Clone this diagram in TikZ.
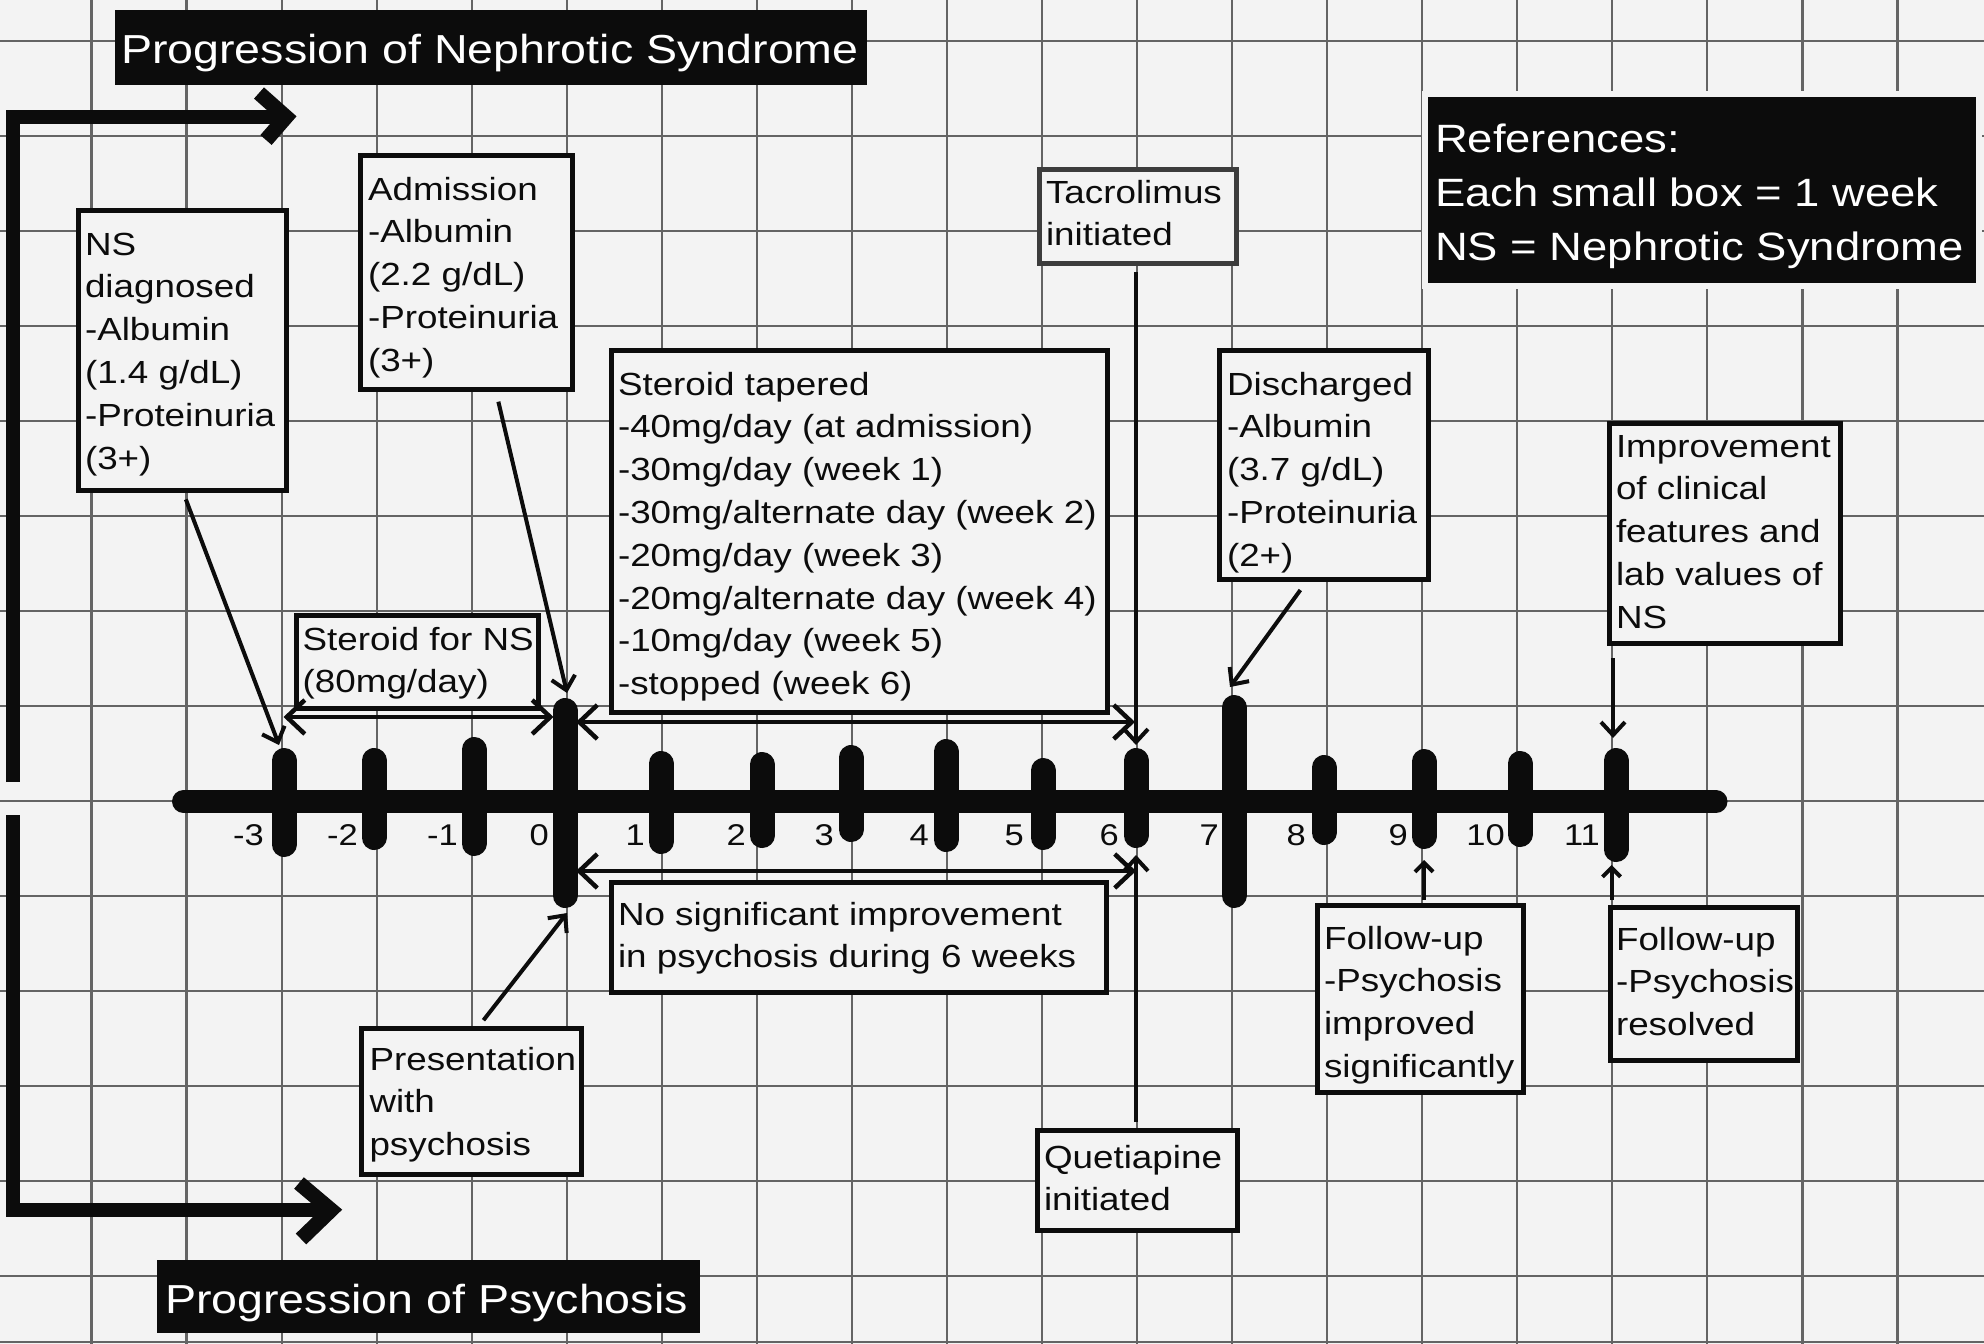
\documentclass[tikz,border=0pt]{standalone}
\usepackage{fontspec}
\setmainfont{Liberation Sans}[FakeStretch=1.15]
\usetikzlibrary{arrows.meta}
\definecolor{bg}{RGB}{243,243,243}
\definecolor{gridc}{RGB}{100,100,100}
\definecolor{ink}{RGB}{12,12,12}
\definecolor{tacc}{RGB}{60,60,60}
\newcommand{\LL}[1]{\mbox{#1}\par}
\newcommand{\bt}[5]{\parbox[c][#2pt][t]{#1pt}{\leftskip=#3pt\relax\rule{0pt}{#4pt}#5}}
\newcommand{\boxfont}{\fontsize{32}{42.8}\selectfont}
\newcommand{\titlefont}{\fontsize{40.5}{54}\selectfont}
\newcommand{\reffont}{\fontsize{39.5}{54}\selectfont}
\newcommand{\axfont}{\fontsize{30}{36}\selectfont}
\tikzset{
 gridline/.style={draw=gridc, line width=2.2pt},
 infobox/.style={draw=ink, line width=5pt, fill=bg, inner sep=0pt, outer sep=0pt, anchor=north west, font=\boxfont, text=ink},
 blackbox/.style={fill=ink, inner sep=0pt, outer sep=0pt, anchor=north west, text=white},
 axlab/.style={inner sep=0pt, anchor=base east, font=\axfont, text=ink},
 arr/.style={draw=ink, line width=4pt, -{Straight Barb[length=13pt,width=24pt]}},
 sarr/.style={draw=ink, line width=4pt, -{Straight Barb[length=9pt,width=18pt]}},
 darr/.style={draw=ink, line width=4.5pt, {Straight Barb[length=18pt,width=34pt]}-{Straight Barb[length=18pt,width=34pt]}},
 tickmark/.style={draw=ink, line width=25pt, line cap=round},
 bigline/.style={draw=ink, line width=14pt, line join=miter},
 chev/.style={draw=ink, line width=15pt, line join=miter},
}
\begin{document}
\begin{tikzpicture}[x=1pt,y=-1pt]
\useasboundingbox (0,0) rectangle (1984,1344);
\fill[bg] (0,0) rectangle (1984,1344);
% grid
\foreach \i in {0,...,19} \draw[gridline] ({91.5+95.05*\i},0) -- ++(0,1344);
\foreach \j in {0,...,13} \draw[gridline] (0,{40.7+95*\j}) -- ++(1984,0);
\draw[gridline] (0,1342) -- (1984,1342);

% big progression brackets
\draw[bigline] (13,782) -- (13,117) -- (286,117);
\draw[chev] (259,93) -- (286,117) -- (266,140);
\draw[bigline] (13,815) -- (13,1210) -- (331,1210);
\draw[chev] (299,1183) -- (331,1210) -- (301,1239);

% timeline
\draw[draw=ink, line width=23pt, line cap=round] (183.5,801.5) -- (1716,801.5);
\foreach \x/\t/\b in {284/748/857, 374/748/850, 474/737/856, 565/698/908, 661/751/854, 762/752/848, 851/745/842, 946/739/852, 1043/758/850, 1136/748/848, 1234/695/908, 1324/755/845, 1424/749/849, 1520/751/847, 1616/748/862}
  \draw[tickmark] (\x,{\t+12.5}) -- (\x,{\b-12.5});
\foreach \n/\x/\s in {m3/264/-3, m2/358/-2, m1/458/-1, p0/549/0, p1/645/1, p2/746/2, p3/834/3, p4/929/4, p5/1024/5, p6/1119/6, p7/1219/7, p8/1306/8, p9/1408/9, p10/1505/10, p11/1600/11}
  \node[axlab] (l\n) at (\x,845) {\s};

% titles
\node[blackbox, font=\titlefont] (t1) at (115,10) {\bt{752}{75}{6}{53}{\LL{Progression of Nephrotic Syndrome}}};
\node[blackbox, font=\titlefont] (t2) at (157,1260) {\bt{543}{73}{8}{53}{\LL{Progression of Psychosis}}};
\node[blackbox, font=\reffont, preaction={draw=bg, line width=12pt}] (refs) at (1428,97) {\bt{548}{186}{7}{55}{\LL{References:}\LL{Each small box = 1 week}\LL{NS = Nephrotic Syndrome}}};

% info boxes
\node[infobox] (ns) at (78.5,210.5) {\bt{208}{280}{6.5}{44.5}{\LL{NS}\LL{diagnosed}\LL{-Albumin}\LL{(1.4 g/dL)}\LL{-Proteinuria}\LL{(3+)}}};
\node[infobox] (adm) at (360.5,155.5) {\bt{212}{234}{7.5}{44.5}{\LL{Admission}\LL{-Albumin}\LL{(2.2 g/dL)}\LL{-Proteinuria}\LL{(3+)}}};
\node[infobox] (sns) at (296.5,615.5) {\bt{242}{93}{6.2}{34.5}{\LL{Steroid for NS}\LL{(80mg/day)}}};
\node[infobox] (stap) at (611.5,350.5) {\bt{496}{362}{6.5}{44.5}{\LL{Steroid tapered}\LL{-40mg/day (at admission)}\LL{-30mg/day (week 1)}\LL{-30mg/alternate day (week 2)}\LL{-20mg/day (week 3)}\LL{-20mg/alternate day (week 4)}\LL{-10mg/day (week 5)}\LL{-stopped (week 6)}}};
\node[infobox, draw=tacc, line width=4.5pt] (tac) at (1039.5,169.5) {\bt{197}{94}{6.5}{33.5}{\LL{Tacrolimus}\LL{initiated}}};
\node[infobox] (dis) at (1219.5,350.5) {\bt{209}{229}{7.5}{44.5}{\LL{Discharged}\LL{-Albumin}\LL{(3.7 g/dL)}\LL{-Proteinuria}\LL{(2+)}}};
\node[infobox] (imp) at (1609.5,423.5) {\bt{231}{220}{6.5}{33.5}{\LL{Improvement}\LL{of clinical}\LL{features and}\LL{lab values of}\LL{NS}}};
\node[infobox] (nsig) at (611.5,882.5) {\bt{495}{110}{6.5}{42.5}{\LL{No significant improvement}\LL{in psychosis during 6 weeks}}};
\node[infobox] (pres) at (361.5,1028.5) {\bt{220}{146}{8}{41.5}{\LL{Presentation}\LL{with}\LL{psychosis}}};
\node[infobox] (que) at (1037.5,1130.5) {\bt{200}{100}{6.5}{37.5}{\LL{Quetiapine}\LL{initiated}}};
\node[infobox] (fu1) at (1317.5,905.5) {\bt{206}{187}{6.5}{43.5}{\LL{Follow-up}\LL{-Psychosis}\LL{improved}\LL{significantly}}};
\node[infobox] (fu2) at (1610.5,907.5) {\bt{187}{153}{5.5}{42.5}{\LL{Follow-up}\LL{-Psychosis}\LL{resolved}}};

% arrow end points
\coordinate (aNS) at (279,745);
\coordinate (aAdm) at (567,693);
\coordinate (aPres) at (567,913);
\coordinate (aDis) at (1230,687);
\coordinate (aImp) at (1613,738);
\coordinate (aTac) at (1136,745);
\coordinate (aQue) at (1136,855);
\coordinate (aFu1) at (1424,860);
\coordinate (aFu2) at (1611.5,865);
\coordinate (snsL) at (283.5,717);
\coordinate (snsR) at (553.5,717);
\coordinate (stL) at (576,722);
\coordinate (stR) at (1135,722);
\coordinate (ngL) at (576,871);
\coordinate (ngR) at (1136,871);

% connectors
\draw[arr, shorten <=9.5pt] (ns.south) -- (aNS);
\draw[arr, shorten <=12.5pt] ([xshift=29pt]adm.south) -- (aAdm);
\draw[arr, shorten <=10.5pt] ([xshift=5.5pt]pres.north) -- (aPres);
\draw[arr, shorten <=13pt] ([xshift=-16pt]dis.south) -- (aDis);
\draw[arr, shorten <=14.5pt] ([xshift=3.5pt]imp.south west) -- (aImp);
\draw[arr, shorten <=8.5pt] ([xshift=-2pt]tac.south) -- (aTac);
\draw[arr, shorten <=8.5pt] ([xshift=-1.5pt]que.north) -- (aQue);
\draw[sarr, shorten <=5.5pt] ([xshift=3.5pt]fu1.north) -- (aFu1);
\draw[sarr, shorten <=7.5pt] ([xshift=1pt]fu2.north west) -- (aFu2);
\draw[darr] (snsL) -- (snsR);
\draw[darr] (stL) -- (stR);
\draw[darr] (ngL) -- (ngR);
\end{tikzpicture}
\end{document}
